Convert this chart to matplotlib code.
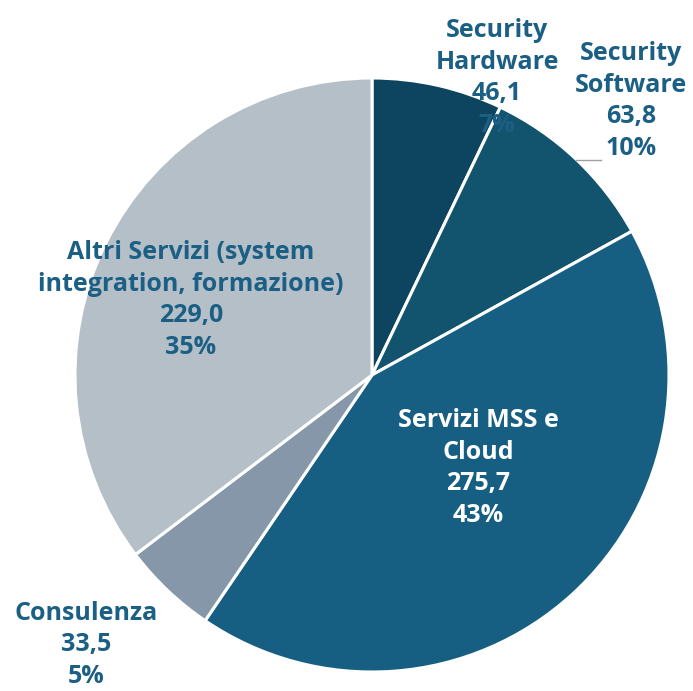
import matplotlib
matplotlib.use("Agg")
import matplotlib.pyplot as plt

categories = ["Security\nHardware", "Security\nSoftware", "Servizi MSS e\nCloud",
              "Consulenza", "Altri Servizi (system\nintegration, formazione)"]
values = [46.1, 63.8, 275.7, 33.5, 229.0]
colors = ["#0d4460", "#12536e", "#175f82", "#8597a8", "#b5bfc8"]
text_colors = ["#1b5f84", "#1b5f84", "white", "#1b5f84", "#1b5f84"]
# label anchor positions in pixel coords (x, y from top)
label_pos = [(497, 78), (631, 101), (478, 468), (86, 645), (191, 300)]

W, H = 693, 691
fig = plt.figure(figsize=(W / 100, H / 100), dpi=100)
ax = fig.add_axes([0, 0, 1, 1])
ax.axis("off")

ax.pie(values, colors=colors, startangle=90, counterclock=False,
       center=(372, H - 375), radius=297,
       wedgeprops=dict(edgecolor="white", linewidth=2.2))
ax.set_xlim(0, W)
ax.set_ylim(0, H)
ax.set_aspect("equal")

total = sum(values)
for cat, v, tc, (x, y) in zip(categories, values, text_colors, label_pos):
    pct = round(v / total * 100)
    txt = f"{cat}\n{v:.1f}".replace(".", ",") + f"\n{pct}%"
    ax.text(x, H - y, txt, ha="center", va="center", color=tc,
            fontsize=18, fontweight="bold", family="Open Sans", linespacing=1.36)

# leader line for Security Software
ax.plot([576, 601], [H - 160, H - 160], color="#a0a0a0", lw=1)

fig.savefig("out.png", dpi=100)
